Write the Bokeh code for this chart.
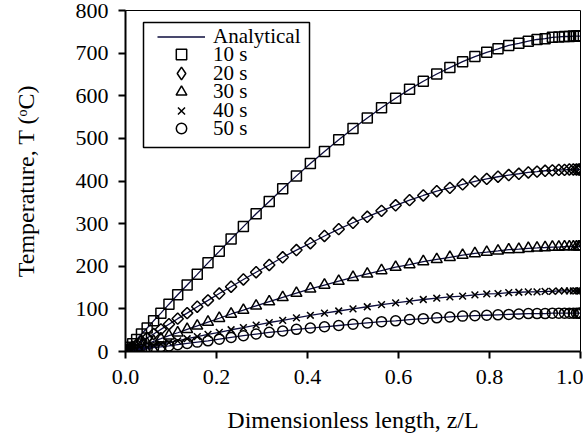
import math
from bokeh.plotting import figure
from bokeh.models import (Range1d, FixedTicker, PrintfTickFormatter, Legend, LegendItem,
                          BoxAnnotation, CDSView, IndexFilter)
from bokeh.embed import file_html
from bokeh.resources import INLINE

# Dimensionless length (node positions)
z = [0, 0.0010, 0.0039, 0.0089, 0.0157, 0.0245, 0.0351, 0.0476, 0.0618, 0.0778,
     0.0955, 0.1147, 0.1355, 0.1577, 0.1813, 0.2061, 0.2321, 0.2591, 0.2871, 0.3159,
     0.3455, 0.3757, 0.4063, 0.4373, 0.4686, 0.5, 0.5314, 0.5627, 0.5937, 0.6243,
     0.6545, 0.6841, 0.7129, 0.7409, 0.7679, 0.7939, 0.8187, 0.8423, 0.8645, 0.8853,
     0.9045, 0.9222, 0.9382, 0.9524, 0.9649, 0.9755, 0.9843, 0.9911, 0.9961, 0.9990, 1.0]

t10 = [0, 1, 5, 10, 18, 28, 41, 55, 72, 90, 111, 133, 156, 181, 208, 235, 264, 293, 323, 352,
       382, 412, 441, 469, 497, 523, 548, 572, 594, 615, 634, 651, 666, 680, 692, 702, 710, 718,
       723, 728, 732, 734, 737, 738, 739, 739, 740, 740, 740, 740, 740]
t20 = [0, 1, 3, 6, 11, 16, 24, 32, 41, 52, 64, 77, 90, 105, 120, 136, 152, 169, 186, 203,
       221, 238, 254, 271, 287, 302, 316, 330, 343, 355, 366, 376, 384, 392, 399, 405, 410, 414,
       417, 420, 422, 424, 425, 426, 426, 427, 427, 427, 427, 427, 427]
t30 = [0, 0, 2, 3, 6, 9, 14, 18, 24, 30, 37, 44, 52, 60, 69, 78, 88, 97, 107, 117,
       127, 137, 147, 156, 165, 174, 182, 190, 198, 204, 211, 216, 221, 226, 230, 233, 236, 239,
       240, 242, 243, 244, 245, 245, 246, 246, 246, 246, 246, 246, 246]
t40 = [0, 0, 1, 2, 4, 5, 8, 11, 14, 17, 21, 25, 30, 35, 40, 45, 51, 56, 62, 68,
       73, 79, 85, 90, 95, 100, 105, 110, 114, 118, 122, 125, 128, 130, 133, 135, 136, 138,
       139, 140, 140, 141, 141, 142, 142, 142, 142, 142, 142, 142, 142]
t50 = [0, 0, 1, 1, 2, 3, 5, 7, 9, 11, 13, 16, 19, 22, 25, 29, 33, 37, 41, 45,
       48, 52, 55, 58, 61, 64, 67, 70, 72, 75, 77, 79, 81, 83, 84, 85, 86, 87, 88, 89,
       89, 89, 90, 90, 90, 90, 90, 90, 90, 90, 90]

series_labels = ["10 s", "20 s", "30 s", "40 s", "50 s"]
series_values = [t10, t20, t30, t40, t50]
# (data marker, angle, size, legend marker or None if same)
marker_styles = [("square", 0.0, 10, None),
                 ("square", math.pi / 4, 8, "diamond"),
                 ("triangle", 0.0, 11, None),
                 ("x", 0.0, 9.5, None),
                 ("circle", 0.0, 10, None)]

x_ticks = [0.0, 0.2, 0.4, 0.6, 0.8, 1.0]
y_ticks = [0, 100, 200, 300, 400, 500, 600, 700, 800]

FONT = "Liberation Serif"

p = figure(width=583, height=439, output_backend="svg", toolbar_location=None,
           x_range=Range1d(0, 1), y_range=Range1d(0, 800),
           min_border_left=125, min_border_right=3, min_border_top=10, min_border_bottom=88)
p.background_fill_color = "white"
p.border_fill_color = "white"
p.outline_line_color = "black"
p.outline_line_width = 1
p.xgrid.visible = False
p.ygrid.visible = False

for ax in (p.xaxis[0], p.yaxis[0]):
    ax.axis_line_width = 2
    ax.axis_line_color = "black"
    ax.major_tick_line_color = "black"
    ax.major_tick_line_width = 2
    ax.major_tick_in = 0
    ax.major_tick_out = 7
    ax.minor_tick_line_color = None
    ax.major_label_text_font = FONT
    ax.major_label_text_font_size = "22px"
    ax.major_label_text_color = "black"
    ax.axis_label_text_font = FONT
    ax.axis_label_text_font_size = "24px"
    ax.axis_label_text_font_style = "normal"
    ax.axis_label_text_color = "black"

p.xaxis.ticker = FixedTicker(ticks=x_ticks)
p.xaxis.formatter = PrintfTickFormatter(format="%.1f")
p.yaxis.ticker = FixedTicker(ticks=y_ticks)
p.xaxis.major_label_standoff = 11
p.yaxis.major_label_standoff = 10
p.xaxis.axis_label = "Dimensionless length, z/L"
p.yaxis.axis_label = "Temperature, T (\u1d52C)"
p.xaxis.axis_label_standoff = 20
p.yaxis.axis_label_standoff = 34

line_color = "#0d0d3d"
line_renderers = []
legend_renderers = []
for ys, (marker, ang, size, lmarker) in zip(series_values, marker_styles):
    lr = p.line(z, ys, line_color=line_color, line_width=1.3)
    line_renderers.append(lr)
    sr = p.scatter(z, ys, marker=marker, angle=ang, size=size, fill_alpha=0,
                   line_color="black", line_width=1.5)
    if lmarker is None:
        legend_renderers.append(sr)
    else:
        # key renderer: only the first node (inside the origin cluster) is shown
        legend_renderers.append(p.scatter(z, ys, marker=lmarker, size=size, fill_alpha=0,
                                          line_color="black", line_width=1.5,
                                          view=CDSView(filter=IndexFilter(indices=[0]))))

# legend frame
box = BoxAnnotation(left=18, right=184, bottom=204, top=329,
                    left_units="screen", right_units="screen",
                    bottom_units="screen", top_units="screen",
                    fill_color="white", fill_alpha=1,
                    line_color="black", line_width=1.5, line_alpha=1)
p.add_layout(box)

row_labels = ["Analytical"] + series_labels
row_renderers = [line_renderers[0]] + legend_renderers
row_centers = [315, 297, 278, 260, 241, 223]   # px above the frame bottom
row_heights = [25, 26, 32, 27, 25, 26]
for lab, rend, yc, gh in zip(row_labels, row_renderers, row_centers, row_heights):
    lg = Legend(items=[LegendItem(label=lab, renderers=[rend])],
                location=(32, yc - gh / 2))
    lg.border_line_color = None
    lg.background_fill_alpha = 0
    lg.label_text_font = FONT
    lg.label_text_font_size = "21px"
    lg.label_text_color = "black"
    lg.glyph_width = 48
    lg.glyph_height = gh
    lg.label_height = gh
    lg.label_standoff = 8
    lg.spacing = 0
    lg.padding = 0
    lg.margin = 0
    p.add_layout(lg, "center")

open("out.html", "w").write(file_html(p, INLINE))
